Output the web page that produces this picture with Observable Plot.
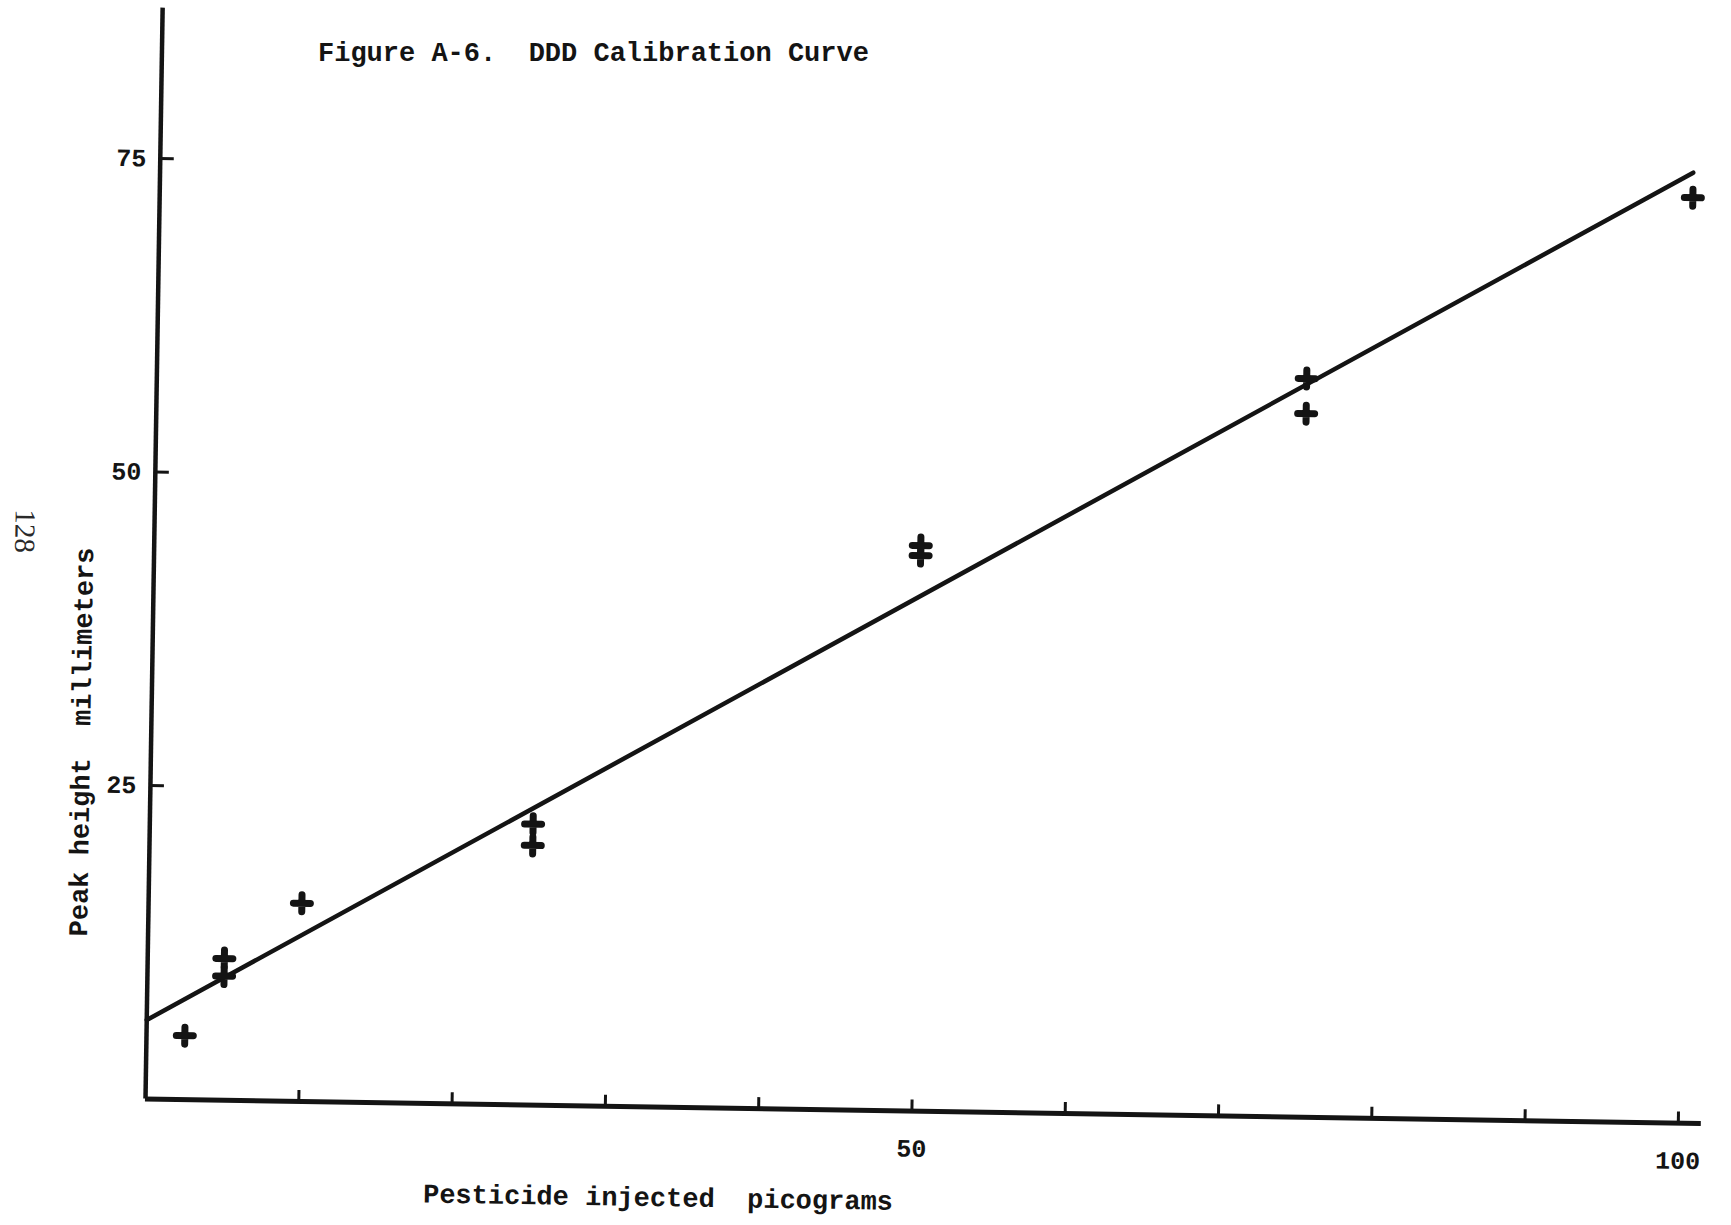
<!DOCTYPE html>
<html>
<head>
<meta charset="utf-8">
<script src="https://cdn.jsdelivr.net/npm/d3@7"></script>
<script src="https://cdn.jsdelivr.net/npm/@observablehq/plot@0.6"></script>
<style>
  html, body { margin: 0; padding: 0; background: #fff; overflow: hidden; }
  #page { position: relative; width: 1731px; height: 1225px; background: #fff; }
  #page svg { position: absolute; left: 0; top: 0; }
  #title {
    position: absolute; left: 318px; top: 41px; margin: 0;
    font: bold 27px "Liberation Mono", monospace; line-height: 1;
    color: #141414; white-space: pre;
  }
  svg text { white-space: pre; }
</style>
</head>
<body>
<div id="page"></div>
<script>
// DDD calibration: peak height (mm) against amount injected (pg)
const concentrations = [2.5, 5, 5, 10, 25, 25, 50, 50, 75, 75, 100];
const peakHeights    = [5.1, 11.3, 9.9, 15.8, 22.4, 20.7, 45.1, 44.3, 58.9, 56.1, 73.8];

// hand-drawn calibration line, end points
const fitX = [0, 100];
const fitY = [6.3, 75.8];

// axis ticks and labels
const xTicks = [10, 20, 30, 40, 50, 60, 70, 80, 90, 100];
const xTickLabels = [50, 100];
const yTicks = [25, 50, 75];

const titleText = "Figure A-6.  DDD Calibration Curve";
const xLabel = "Pesticide injected  picograms";
const yLabel = "Peak height  millimeters";
const pageNumber = "128";

const points = concentrations.map((x, i) => ({x, y: peakHeights[i]}));
const fitLine = fitX.map((x, i) => ({x, y: fitY[i]}));

const W = 1731, H = 1225;
const mL = 145, mR = 30, mT = 7.5, mB = 126.5;
const plotW = W - mL - mR, plotH = H - mT - mB;
const ink = "#141414";

// bold typewriter-style "+" marker
const plusMark = {
  draw(context, size) {
    const r = Math.sqrt(size / Math.PI);
    context.moveTo(-r, 0); context.lineTo(r, 0);
    context.moveTo(0, -r); context.lineTo(0, r);
  }
};

const chart = Plot.plot({
  width: W, height: H,
  marginLeft: mL, marginRight: mR, marginTop: mT, marginBottom: mB,
  x: {domain: [0, 101.5]},
  y: {domain: [0, 87]},
  style: {fontFamily: "'Liberation Mono', monospace", fontWeight: "bold", fontSize: "25px", color: ink, background: "transparent"},
  marks: [
    // axis lines
    Plot.ruleY([0], {stroke: ink, strokeWidth: 5}),
    Plot.ruleX([0], {stroke: ink, strokeWidth: 4.5}),
    // inward tick marks
    Plot.tickX(xTicks, {x: d => d, stroke: ink, strokeWidth: 3, insetTop: plotH - 11}),
    Plot.tickY(yTicks, {y: d => d, stroke: ink, strokeWidth: 3, insetRight: plotW - 14}),
    // tick labels
    Plot.axisX(xTickLabels, {tickSize: 0, tickPadding: 28, label: null, fill: ink}),
    Plot.axisY(yTicks, {tickSize: 0, tickPadding: 14, label: null, fill: ink}),
    // calibration line
    Plot.line(fitLine, {x: "x", y: "y", stroke: ink, strokeWidth: 4.5, strokeLinecap: "round"}),
    // measured peaks
    Plot.dot(points, {x: "x", y: "y", symbol: plusMark, r: 8.5, fill: "none", stroke: ink, strokeWidth: 7, strokeLinecap: "round"}),
    // axis titles
    Plot.text([xLabel], {text: d => d, frameAnchor: "bottom-left", textAnchor: "middle", dx: 514, dy: 99, fontSize: 27, fill: ink}),
    Plot.text([yLabel], {text: d => d, frameAnchor: "bottom-left", textAnchor: "middle", dx: -61, dy: -356, rotate: -90, fontSize: 27, fill: ink}),
    // page number
    Plot.text([pageNumber], {text: d => d, frameAnchor: "bottom-left", textAnchor: "middle", dx: -139, dy: -566, rotate: 90, fontSize: 29, fontWeight: "normal", fontFamily: "'Liberation Serif', serif", fill: "#2a2a2a"})
  ]
});

// the sheet sits slightly turned
chart.style.transform = "rotate(0.9deg)";
chart.style.transformOrigin = `${mL}px ${H - mB}px`;

const page = document.getElementById("page");
page.appendChild(chart);
const title = document.createElement("div");
title.id = "title";
title.textContent = titleText;
page.appendChild(title);
</script>
</body>
</html>
